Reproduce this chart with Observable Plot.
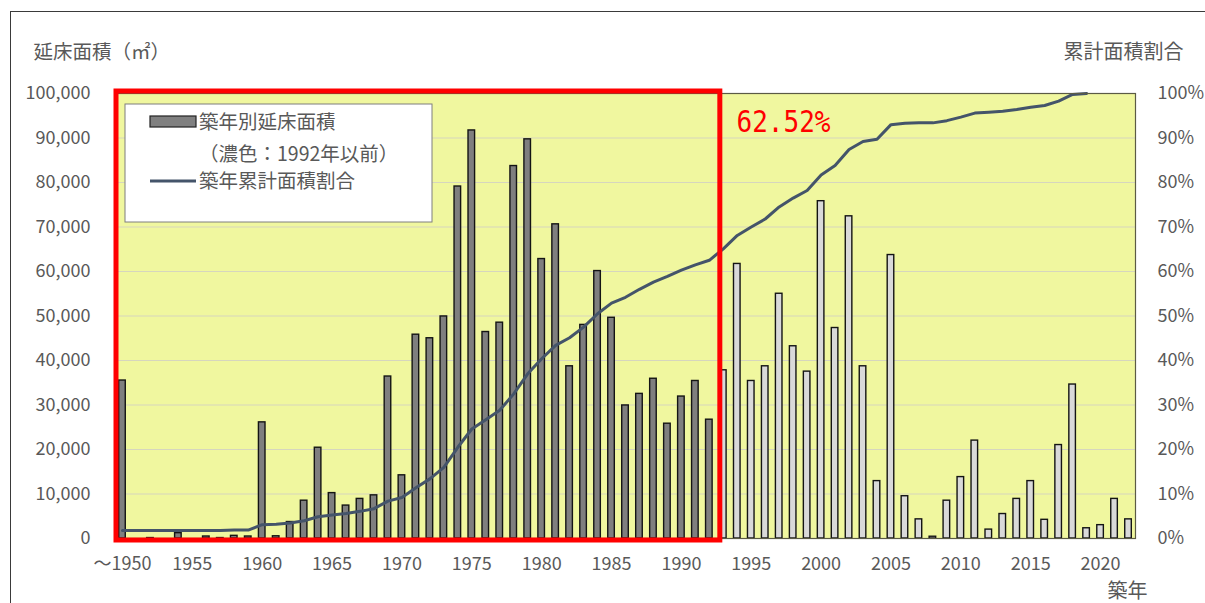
<!DOCTYPE html>
<html>
<head>
<meta charset="utf-8">
<script src="https://cdn.jsdelivr.net/npm/d3@7"></script>
<script src="https://cdn.jsdelivr.net/npm/@observablehq/plot@0.6"></script>
<style>
  html, body { margin: 0; padding: 0; background: #fff; }
  #wrap { position: relative; width: 1205px; height: 603px; overflow: hidden; }
  #edge { position: absolute; left: 10px; top: 11px; width: 1300px; height: 700px;
          border-top: 1px solid #3a3a3a; border-left: 1px solid #3a3a3a; pointer-events: none; }
  #chart { position: absolute; left: 0; top: 0; }
</style>
</head>
<body>
<div id="wrap"><div id="chart"></div><div id="edge"></div></div>
<script>
const FONT = "'Noto Sans CJK JP', 'Noto Sans', sans-serif";

// 築年 (construction year); the first category also covers everything before 1950
const years = [
  1950, 1951, 1952, 1953, 1954, 1955, 1956, 1957, 1958, 1959,
  1960, 1961, 1962, 1963, 1964, 1965, 1966, 1967, 1968, 1969,
  1970, 1971, 1972, 1973, 1974, 1975, 1976, 1977, 1978, 1979,
  1980, 1981, 1982, 1983, 1984, 1985, 1986, 1987, 1988, 1989,
  1990, 1991, 1992, 1993, 1994, 1995, 1996, 1997, 1998, 1999,
  2000, 2001, 2002, 2003, 2004, 2005, 2006, 2007, 2008, 2009,
  2010, 2011, 2012, 2013, 2014, 2015, 2016, 2017, 2018, 2019,
  2020, 2021, 2022
];

// 築年別延床面積 (m²)
const floorArea = [
  35500, 0, 100, 0, 1200, 0, 450, 100, 600, 450,
  26100, 500, 3700, 8500, 20400, 10200, 7400, 8900, 9700, 36400,
  14200, 45800, 45000, 49900, 79100, 91700, 46400, 48500, 83700, 89700,
  62800, 70600, 38700, 48000, 60100, 49600, 29900, 32500, 35900, 25800,
  31900, 35400, 26700, 37800, 61700, 35400, 38700, 55000, 43200, 37500,
  75800, 47300, 72400, 38700, 12900, 63700, 9500, 4300, 400, 8500,
  13800, 22000, 2000, 5500, 8900, 12900, 4200, 21000, 34600, 2300,
  3000, 8900, 4300
];

// 築年累計面積割合 (%), 1950–2019
const cumulativeShare = [
  1.8, 1.8, 1.8, 1.8, 1.8, 1.8, 1.8, 1.8, 1.9, 1.9,
  3.1, 3.2, 3.5, 4.0, 4.9, 5.3, 5.6, 6.1, 6.7, 8.4,
  9.2, 11.4, 13.4, 16.0, 20.5, 24.6, 26.7, 28.8, 32.5, 37.0,
  40.4, 43.4, 45.1, 47.5, 50.5, 52.9, 54.2, 56.0, 57.6, 58.9,
  60.3, 61.5, 62.52, 65.1, 68.1, 70.0, 71.8, 74.5, 76.5, 78.2,
  81.7, 83.8, 87.4, 89.2, 89.7, 93.0, 93.3, 93.4, 93.4, 93.9,
  94.7, 95.6, 95.8, 96.0, 96.4, 96.9, 97.3, 98.3, 99.8, 100
];

const cutoffYear = 1992;           // 濃色：1992年以前
const cutoffShare = 62.52;         // share built up to the cutoff year
const yTicks = [0, 10000, 20000, 30000, 40000, 50000, 60000, 70000, 80000, 90000, 100000];
const xTicks = [1950, 1955, 1960, 1965, 1970, 1975, 1980, 1985, 1990, 1995, 2000, 2005, 2010, 2015, 2020];

const bars = years.map((year, i) => ({year, area: floorArea[i], early: year <= cutoffYear}))
  .filter(d => d.area > 0);
const share = cumulativeShare.map((pct, i) => ({year: years[i], pct}));

// the percentage axis shares the area scale: 100% ↔ 100,000
const pctToArea = p => p * 1000;

function legend(index, scales, values, dim) {
  const g = d3.create("svg:g").attr("font-family", FONT).attr("text-anchor", "start");
  const x0 = dim.marginLeft + 10, y0 = dim.marginTop + 11;
  g.append("rect").attr("x", x0).attr("y", y0).attr("width", 307).attr("height", 118)
    .attr("fill", "#fff").attr("stroke", "#7f7f7f").attr("stroke-width", 1);
  g.append("rect").attr("x", x0 + 25).attr("y", y0 + 12).attr("width", 46).attr("height", 11)
    .attr("fill", "#808080").attr("stroke", "#222").attr("stroke-width", 1.2);
  g.append("line").attr("x1", x0 + 25).attr("x2", x0 + 71).attr("y1", y0 + 77).attr("y2", y0 + 77)
    .attr("stroke", "#44546a").attr("stroke-width", 3);
  const rows = [["築年別延床面積", 18], ["（濃色：" + cutoffYear + "年以前）", 50], ["築年累計面積割合", 77]];
  for (const [t, dy] of rows) {
    g.append("text").attr("x", x0 + 74).attr("y", y0 + dy).attr("dy", "0.35em")
      .attr("text-anchor", "start")
      .attr("font-size", 19.5).attr("fill", "#595959").text(t);
  }
  return g.node();
}

function highlight(index, {x, y}) {
  const bw = typeof x.bandwidth === "function" ? x.bandwidth() : 0;
  const left = x(years[0]) + 1, right = x(cutoffYear) + bw + 4;
  const top = y(100000) - 2, bottom = y(0) + 2;
  return d3.create("svg:rect")
    .attr("x", left).attr("y", top).attr("width", right - left).attr("height", bottom - top)
    .attr("fill", "none").attr("stroke", "#ff0000").attr("stroke-width", 5).node();
}

const shareLabel = cutoffShare.toFixed(2) + "%";

const chart = Plot.plot({
  width: 1205,
  height: 603,
  marginLeft: 115,
  marginRight: 70,
  marginTop: 93,
  marginBottom: 65,
  style: {fontFamily: FONT, fontSize: "18px", color: "#595959", background: "transparent"},
  x: {type: "band", domain: years, padding: 0, label: null, axis: null},
  y: {domain: [0, 100000], label: null, axis: null},
  marks: [
    Plot.frame({fill: "#f0f79f"}),
    Plot.gridY(yTicks.slice(1, -1), {stroke: "#d6d6be", strokeOpacity: 1, strokeWidth: 1.2}),
    Plot.barY(bars, {
      x: "year", y: "area",
      fill: d => d.early ? "#7f7f7f" : "#d9d9d9",
      stroke: "#141414", strokeWidth: 1.4,
      insetLeft: 3.7, insetRight: 3.7
    }),
    Plot.lineY(share, {x: "year", y: d => pctToArea(d.pct), stroke: "#44546a", strokeWidth: 3}),
    Plot.frame({stroke: "#5b5b45", strokeWidth: 1.2}),
    Plot.axisY(yTicks, {anchor: "left", tickSize: 0, tickPadding: 25, tickFormat: d3.format(","), label: null, fill: "#595959"}),
    Plot.axisY(yTicks, {anchor: "right", tickSize: 0, tickPadding: 22, tickFormat: d => (d / 1000) + "%", label: null, fill: "#595959"}),
    Plot.axisX(xTicks, {anchor: "bottom", tickSize: 0, tickPadding: 19, tickFormat: d => d === years[0] ? "～" + d : String(d), label: null, fill: "#595959"}),
    Plot.text(["延床面積（㎡）"], {frameAnchor: "top-left", dx: -82, dy: -41, textAnchor: "start", lineAnchor: "middle", fontSize: 19.5, fill: "#595959"}),
    Plot.text(["累計面積割合"], {frameAnchor: "top-right", dx: 48, dy: -41, textAnchor: "end", lineAnchor: "middle", fontSize: 20, fill: "#595959"}),
    Plot.text(["築年"], {frameAnchor: "bottom-right", dx: -8, dy: 53, textAnchor: "middle", lineAnchor: "middle", fontSize: 20, fill: "#595959"}),
    Plot.text([shareLabel], {frameAnchor: "top-left", dx: 621, dy: 29, textAnchor: "start", lineAnchor: "middle", fontSize: 31, fontFamily: "'DejaVu Sans Mono', 'Liberation Mono', monospace", fill: "#ff0000"}),
    legend,
    highlight
  ]
});

// narrow lettering for the share label
d3.select(chart).selectAll("text")
  .filter(function() { return this.textContent === shareLabel; })
  .attr("textLength", 94).attr("lengthAdjust", "spacingAndGlyphs");

document.getElementById("chart").append(chart);
</script>
</body>
</html>
